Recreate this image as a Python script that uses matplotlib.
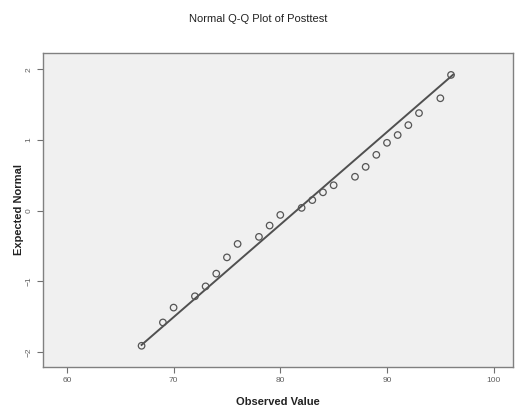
import numpy as np
import matplotlib
matplotlib.use('Agg')
import matplotlib.pyplot as plt

plt.rcParams['font.family'] = ['Liberation Sans', 'DejaVu Sans']

# observed posttest scores and their expected normal values
observed = [67, 69, 70, 72, 73, 74, 75, 76, 78, 79, 80, 82,
            83, 84, 85, 87, 88, 89, 90, 91, 92, 93, 95, 96]
expected = [-1.91, -1.58, -1.37, -1.21, -1.07, -0.89, -0.66, -0.47,
            -0.37, -0.21, -0.06, 0.04, 0.15, 0.26, 0.36, 0.48,
            0.62, 0.79, 0.96, 1.07, 1.21, 1.38, 1.59, 1.92]

# reference line y = (x - mean) / sd
line_mean = 81.5
line_sd = 7.64

x_ticks = [60, 70, 80, 90, 100]
y_ticks = [-2, -1, 0, 1, 2]

fig = plt.figure(figsize=(5.16, 4.16), dpi=100)
ax = fig.add_axes([0.0833, 0.1178, 0.9107, 0.7548])
ax.set_facecolor('#f0f0f0')

xs = np.array([min(observed), max(observed) + 0.2])
ax.plot(xs, (xs - line_mean) / line_sd, color='#505050', lw=1.4, zorder=2)
ax.scatter(observed, expected, s=22, facecolors='none',
           edgecolors='#555555', linewidths=0.9, zorder=3)

ax.set_xlim(57.76, 101.8)
ax.set_ylim(-2.21, 2.23)
ax.set_xticks(x_ticks)
ax.set_yticks(y_ticks)
ax.tick_params(direction='out', length=4, width=0.8, colors='#707070',
               labelsize=6, labelcolor='#606060')
for lab in ax.get_yticklabels():
    lab.set_rotation(90)
    lab.set_va('center')

for sp in ax.spines.values():
    sp.set_color('#808080')
    sp.set_linewidth(1.0)

ax.set_xlabel('Observed Value', fontsize=8, fontweight='bold', color='#222222', labelpad=9)
ax.set_ylabel('Expected Normal', fontsize=8, fontweight='bold', color='#222222')
ax.yaxis.set_label_coords(-0.040, 0.5)
fig.text(0.5, 0.955, 'Normal Q-Q Plot of Posttest', ha='center', va='center',
         fontsize=8, color='#222222')

fig.savefig('out.png', dpi=100)
